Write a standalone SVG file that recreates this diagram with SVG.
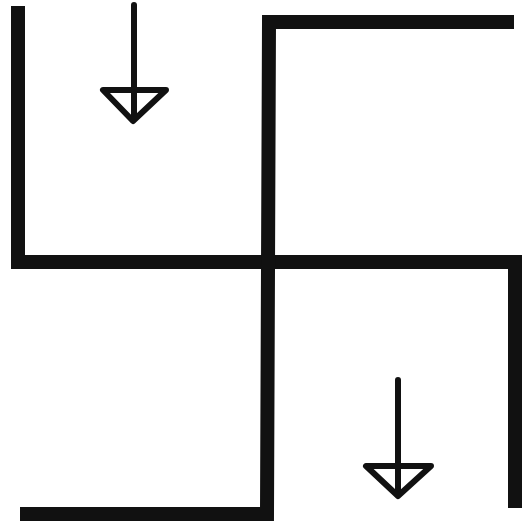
<svg xmlns="http://www.w3.org/2000/svg" width="531" height="523" viewBox="0 0 531 523">
  <style>
    .bar { fill: none; stroke: #111; stroke-width: 14; stroke-linejoin: miter; stroke-linecap: butt; }
    .arr { fill: none; stroke: #111; stroke-width: 6; stroke-linejoin: round; stroke-linecap: round; }
  </style>
  <rect width="531" height="523" fill="#ffffff"/>
  <g id="figure">
    <polyline class="bar" points="18,6 18,262 515,262 515,508"/>
    <polyline class="bar" points="514,22 269,22 267,514 20,514"/>
  </g>
  <g id="arrows">
    <g id="arrow-top">
      <line class="arr" x1="134" y1="5" x2="134" y2="118"/>
      <polygon class="arr" points="103,90 166,90 133,121"/>
    </g>
    <g id="arrow-bottom">
      <line class="arr" x1="398" y1="380" x2="398" y2="494"/>
      <polygon class="arr" points="366,466 431,466 398,496"/>
    </g>
  </g>
</svg>
